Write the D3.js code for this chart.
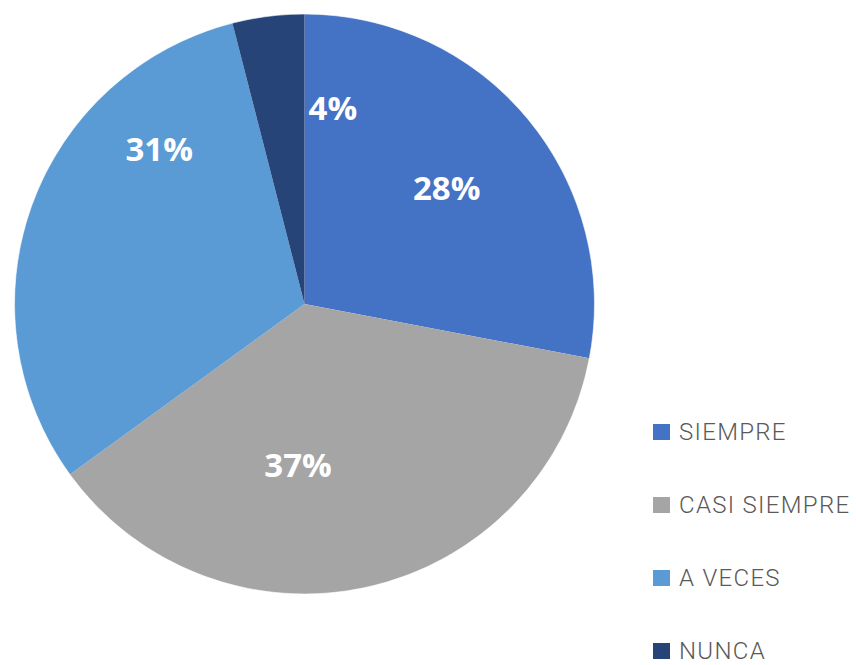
<!DOCTYPE html>
<html>
<head>
<meta charset="utf-8">
<script src="https://cdn.jsdelivr.net/npm/d3@7/dist/d3.min.js"></script>
<style>
  html, body { margin: 0; padding: 0; background: #ffffff; }
  svg { display: block; }
</style>
</head>
<body>
<svg id="chart" width="856" height="665"></svg>
<script>
// ---- data ----
const categories = ["SIEMPRE", "CASI SIEMPRE", "A VECES", "NUNCA"];
const values = [28, 37, 31, 4];
const valueLabels = ["28%", "37%", "31%", "4%"];
const colors = ["#4472C4", "#A5A5A5", "#5B9BD5", "#264478"];

// ---- layout (Excel best-fit label placement, polar: degrees from 12 o'clock, radius px) ----
const W = 856, H = 665;
const cx = 304.5, cy = 304, R = 290;
const labelPolar = [[50.6, 184], [182.3, 161], [317.0, 213], [8.2, 199]];
const legendX = 653, legendY0 = 432, legendStep = 73;

const svg = d3.select("#chart");
const g = svg.append("g").attr("transform", `translate(${cx},${cy})`);

const pie = d3.pie().value(d => d).sort(null);
const arcs = pie(values);
const arc = d3.arc().innerRadius(0).outerRadius(R);

g.selectAll("path.slice")
  .data(arcs)
  .enter().append("path")
  .attr("class", "slice")
  .attr("d", arc)
  .attr("fill", (d, i) => colors[i])
  .attr("stroke", "none");

g.append("circle").attr("r", R).attr("fill", "none")
  .attr("stroke", "#ffffff").attr("stroke-width", 1).attr("stroke-opacity", 0.6);

g.selectAll("text.lbl")
  .data(arcs)
  .enter().append("text")
  .attr("class", "lbl")
  .attr("x", (d, i) => labelPolar[i][1] * Math.sin(labelPolar[i][0] * Math.PI / 180))
  .attr("y", (d, i) => -labelPolar[i][1] * Math.cos(labelPolar[i][0] * Math.PI / 180))
  .attr("text-anchor", "middle")
  .attr("dominant-baseline", "central")
  .attr("fill", "#ffffff")
  .attr("font-family", "'Open Sans', 'DejaVu Sans', sans-serif")
  .attr("font-weight", "bold")
  .attr("font-size", 33)
  .text((d, i) => valueLabels[i]);

// ---- legend ----
const leg = svg.append("g");
const items = leg.selectAll("g.item")
  .data(categories)
  .enter().append("g")
  .attr("class", "item")
  .attr("transform", (d, i) => `translate(${legendX},${legendY0 + i * legendStep})`);

items.append("rect")
  .attr("x", 0).attr("y", -8)
  .attr("width", 17).attr("height", 16)
  .attr("fill", (d, i) => colors[i]);

items.append("text")
  .attr("x", 26).attr("y", 0)
  .attr("dominant-baseline", "central")
  .attr("fill", "#595959")
  .attr("font-family", "'Roboto', 'Liberation Sans', sans-serif")
  .attr("font-weight", 300)
  .attr("font-size", 24)
  .attr("letter-spacing", 1.3)
  .text(d => d);
</script>
</body>
</html>
